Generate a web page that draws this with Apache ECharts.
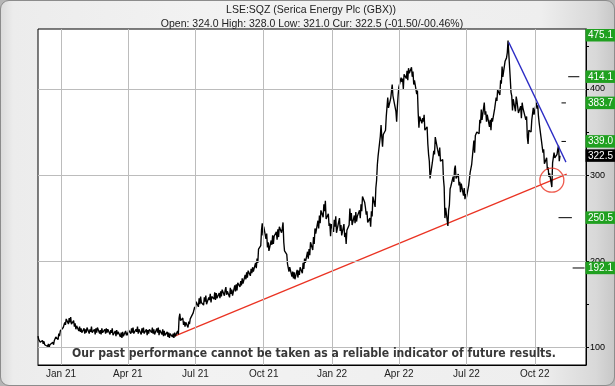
<!DOCTYPE html>
<html><head><meta charset="utf-8">
<script src="https://cdn.jsdelivr.net/npm/echarts@6/dist/echarts.min.js"></script>
<style>
html,body{margin:0;padding:0;width:615px;height:386px;overflow:hidden;background:#b5b5b5;}
#frame{position:absolute;left:0;top:0;width:613px;height:384px;border:1px solid #8c8c8c;border-radius:9px;
background:linear-gradient(to right,#dcdcdc 0px,#ececec 12px,#f2f2f2 200px,#eeeeee 540px,#d8d8d8 595px,#c6c6c6 615px);}
#chart{position:absolute;left:0;top:0;width:615px;height:386px;}
</style></head>
<body><div id="frame"></div><div id="chart"></div>
<script>
const titleText = 'LSE:SQZ (Serica Energy Plc (GBX))';
const subtitleText = 'Open: 324.0 High: 328.0 Low: 321.0 Cur: 322.5 (-01.50/-00.46%)';
const disclaimerText = 'Our past performance cannot be taken as a reliable indicator of future results.';

const months = ['2020-12','2021-01','2021-02','2021-03','2021-04','2021-05','2021-06','2021-07','2021-08','2021-09','2021-10','2021-11','2021-12',
  '2022-01','2022-02','2022-03','2022-04','2022-05','2022-06','2022-07','2022-08','2022-09','2022-10','2022-11'];
// daily prices (one per weekday of each month)
const dec20 = [113,109,111,106,108,104,107,103,105,101,104,100,103,101,106,103,108,106,112,109,116,113,119];
const jan21 = [117,123,121,129,126,133,127,134,129,135,127,131,124,128,121,125,119,124,118,122,117];
const feb21 = [122,116,121,117,123,116,121,118,124,117,121,115,122,117,123,116,120,115,122,117];
const mar21 = [121,116,122,117,121,115,120,117,122,114,119,113,120,115,118,112,117,111,118,113,119,114,117];
const apr21 = [114,120,116,122,117,123,116,121,118,124,116,121,115,122,117,123,116,121,114,120,116,121];
const may21 = [117,123,116,121,115,122,117,123,114,120,115,121,113,119,114,118,112,117,111,116,112];
const jun21 = [116,111,117,113,119,115,134,139,131,134,126,130,124,129,123,130,127,133,132,140,139,147];
const jul21 = [144,153,147,157,150,159,152,149,158,153,160,150,158,155,162,152,159,156,164,155,163,157];
const aug21 = [163,157,165,159,167,160,166,170,161,165,158,169,162,167,160,172,165,173,166,175,170,177];
const sep21 = [172,180,174,184,179,187,181,189,183,191,186,193,188,198,192,203,198,214,218,236,244,230];
const oct21 = [240,226,232,216,222,212,224,219,230,220,229,234,225,237,228,240,233,238,245,222,212];
const nov21 = [208,197,199,188,193,182,188,180,187,179,190,181,189,184,193,186,198,191,203,198,211,203];
const dec21 = [214,207,222,213,228,220,238,232,247,238,253,244,259,251,266,258,270,249,255,241,244,229,243];
const jan22 = [234,248,240,252,233,246,250,235,242,230,243,228,233,220,236,242,261,247,256,242,253];
const feb22 = [244,257,246,252,259,250,266,258,275,268,262,254,258,245,250,240,258,252,275,263];
const mar22 = [285,294,312,322,345,358,344,333,347,352,368,370,390,378,389,388,405,392,390,374,362,380,393];
const apr22 = [402,413,408,412,400,417,412,421,410,424,418,425,414,420,405,410,394,398,372,355,368];
const may22 = [360,366,362,370,352,356,336,324,316,296,314,312,328,324,344,330,330,322,332,316,318,296];
const jun22 = [286,250,262,241,259,265,284,287,298,292,307,311,296,301,288,292,280,290,276,285,272,278];
const jul22 = [274,288,290,303,302,312,340,326,346,344,350,348,364,360,376,364,384,370,374,362,370];
const aug22 = [356,364,352,366,362,377,376,390,386,399,393,410,406,426,414,432,434,436,442,456,412,396,392];
const sep22 = [375,388,374,391,386,386,372,380,366,384,378,380,364,368,344,336,352,350,364,362,378,370];
const oct22 = [384,377,381,368,360,340,342,326,330,313,320,306,309,298,302,286,314,314,326,320,324];
const nov22 = [330,334,316,322.5];
const monthly = [dec20,jan21,feb21,mar21,apr21,may21,jun21,jul21,aug21,sep21,oct21,nov21,dec21,
  jan22,feb22,mar22,apr22,may22,jun22,jul22,aug22,sep22,oct22,nov22];

const xTickDates = ['2021-01-01','2021-04-01','2021-07-01','2021-10-01','2022-01-01','2022-04-01','2022-07-01','2022-10-01'];
const xTickLabels = ['Jan 21','Apr 21','Jul 21','Oct 21','Jan 22','Apr 22','Jul 22','Oct 22'];
const yTickValues = [100,200,300,400];
const yMinorTicks = [100,150,200,250,300,350,400,450];
const targetValues = [475.1,414.1,383.7,339.0,250.5,192.1];
const targetLabels = ['475.1','414.1','383.7','339.0','250.5','192.1'];
const currentPrice = 322.5;
const currentLabel = '322.5';
// short target markers: [level, fromDate, toDate]
const targetMarks = [[414.1,'2022-11-15','2022-11-30'],[383.7,'2022-11-06','2022-11-12'],[339.0,'2022-11-06','2022-11-12'],
  [250.5,'2022-11-02','2022-11-20'],[192.1,'2022-11-21','2022-12-07']];
const blueTrend = [['2022-08-27',454],['2022-11-12',315]];
const redTrend = [['2021-06-03',113],['2022-11-13',301]];
const circleAt = ['2022-10-24',294];
const xMin = '2020-12-01', xMax = '2022-12-09';
const yMin = 79.5, yMax = 469.5;

function d(s){const p=s.split('-').map(Number);return new Date(p[0],p[1]-1,p[2]).getTime();}

const priceData = [];
months.forEach((ym,k)=>{
  const [y,m] = ym.split('-').map(Number);
  const nd = new Date(y,m,0).getDate();
  const wd = [];
  for(let day=1;day<=nd;day++){const dt=new Date(y,m-1,day);const w=dt.getDay();if(w!==0&&w!==6)wd.push(dt.getTime());}
  monthly[k].forEach((v,i)=>{if(i<wd.length)priceData.push([wd[i],v]);});
});

const labelByTs = {};
xTickDates.forEach((s,i)=>{labelByTs[d(s)]=xTickLabels[i];});

const FONT = '"Liberation Sans", Arial, sans-serif';
const series = [
  {type:'line',data:[],silent:true,z:1,
   markLine:{silent:true,symbol:['none','none'],label:{show:false},animation:false,
     lineStyle:{color:'#bcbcbc',width:1,type:'solid'},
     data:[...yTickValues.map(v=>({yAxis:v})),...xTickDates.map(s=>({xAxis:d(s)}))]}},
  {type:'line',data:redTrend.map(p=>[d(p[0]),p[1]]),symbol:'none',z:3,lineStyle:{color:'#ea3323',width:1.3}},
  {type:'line',data:priceData,symbol:'none',z:4,lineStyle:{color:'#000',width:1.35}},
  {type:'line',data:blueTrend.map(p=>[d(p[0]),p[1]]),symbol:'none',z:5,lineStyle:{color:'#2b2bc4',width:1.3}},
  {type:'scatter',data:[[d(circleAt[0]),circleAt[1]]],symbol:'circle',symbolSize:24,z:6,
   itemStyle:{color:'rgba(0,0,0,0)',borderColor:'#ea3323',borderWidth:1.3}},
  ...targetMarks.map(t=>({type:'line',data:[[d(t[1]),t[0]],[d(t[2]),t[0]]],symbol:'none',z:5,lineStyle:{color:'#000',width:1}}))
];

const chart = echarts.init(document.getElementById('chart'),null,{renderer:'canvas'});
chart.setOption({
  animation:false,
  backgroundColor:'transparent',
  grid:{left:38,right:29,top:29,bottom:21,show:true,backgroundColor:'#fff',borderColor:'#000',borderWidth:1},
  xAxis:{type:'value',min:d(xMin),max:d(xMax),
    axisLine:{show:true,lineStyle:{color:'#000'}},axisTick:{show:false},splitLine:{show:false},
    axisLabel:{customValues:xTickDates.map(d),formatter:v=>labelByTs[v]||'',color:'#222',fontSize:10,margin:4,fontFamily:FONT}},
  yAxis:{type:'value',position:'right',min:yMin,max:yMax,
    axisLine:{show:true,lineStyle:{color:'#000'}},
    axisTick:{show:true,length:3,customValues:yMinorTicks,lineStyle:{color:'#000'}},
    axisLabel:{customValues:yTickValues,color:'#000',fontSize:9,margin:4,fontFamily:FONT},
    splitLine:{show:false}},
  series
});

function buildGraphics(){
  const els = [
    {type:'text',x:311,y:10,z:100,style:{text:titleText,font:'10.5px '+FONT,fill:'#222',textAlign:'center',textVerticalAlign:'middle'}},
    {type:'text',x:312,y:24,z:100,style:{text:subtitleText,font:'10.5px '+FONT,fill:'#222',textAlign:'center',textVerticalAlign:'middle'}},
    {type:'text',x:314,y:354,z:100,scaleX:0.93,style:{text:disclaimerText,font:'bold 13px "Liberation Sans Narrow", "DejaVu Sans Condensed", sans-serif',fill:'#383838',textAlign:'center',textVerticalAlign:'middle'}}
  ];
  const top = 29;
  function box(v,label,fill){
    const py = chart.convertToPixel({yAxisIndex:0},v);
    const y0 = Math.max(top,py-6.3);
    els.push({type:'rect',z:100,shape:{x:585.5,y:y0,width:30,height:12.5},style:{fill}});
    els.push({type:'text',z:101,x:588,y:y0+6.5,style:{text:label,font:'10px '+FONT,fill:'#fff',textVerticalAlign:'middle'}});
  }
  targetValues.forEach((v,i)=>box(v,targetLabels[i],'#20a020'));
  box(currentPrice,currentLabel,'#000');
  chart.setOption({graphic:{elements:els}});
}
buildGraphics();
</script></body></html>
